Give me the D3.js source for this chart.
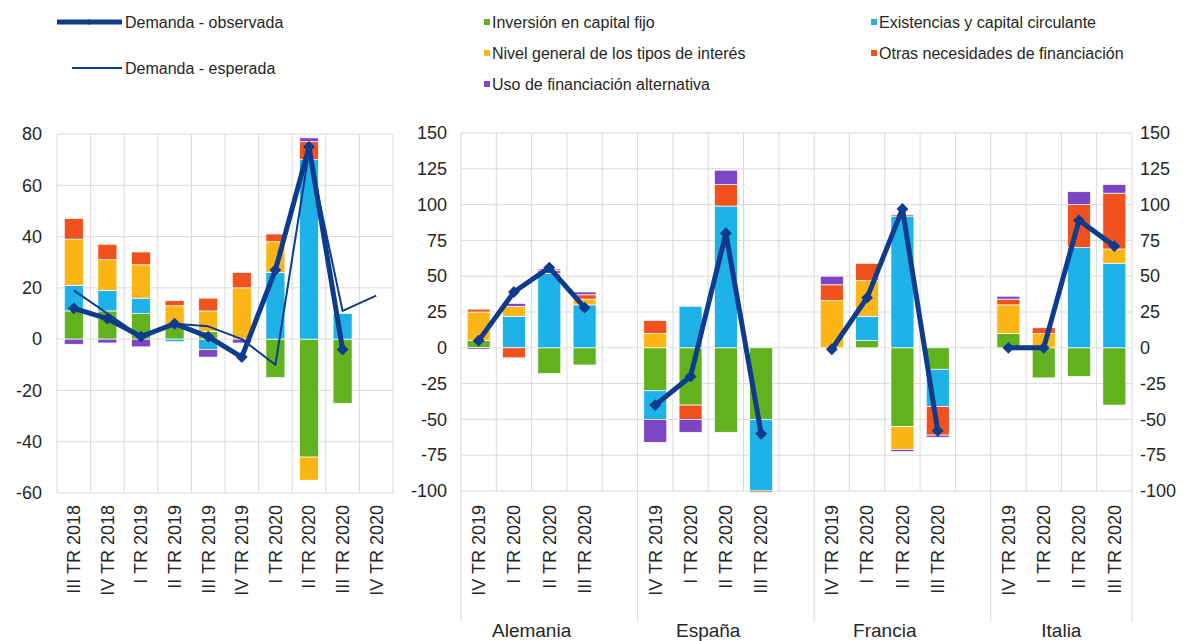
<!DOCTYPE html>
<html>
<head>
<meta charset="utf-8">
<script src="https://cdn.jsdelivr.net/npm/d3@7"></script>
<style>
body { margin: 0; background: #fff; }
text { font-family: "Liberation Sans", Arial, sans-serif; fill: #262626; }
</style>
</head>
<body>
<script>
//left panel: euro area, quarters
var leftQuarters = ['III TR 2018', 'IV TR 2018', 'I TR 2019', 'II TR 2019', 'III TR 2019',
    'IV TR 2019', 'I TR 2020', 'II TR 2020', 'III TR 2020', 'IV TR 2020'];
var leftInversion   = [11, 11, 10, 5, 3, 0, -15, -46, -25, 0];
var leftExistencias = [10, 8, 6, -1, -4, 0, 26, 70, 10, 0];
var leftTipos       = [18, 12, 13, 8, 8, 20, 12, -9, 0, 0];
var leftOtras       = [8, 6, 5, 2, 5, 6, 3, 7, 0, 0];
var leftAlternativa = [-2, -1.5, -3, 0, -3, -1.5, 0, 1.5, 0, 0];
var leftObservada   = [12, 8, 1, 6, 1, -7, 27, 75, -4, null];
var leftEsperada    = [19, 10, 1, 6, 5, 0, -10, 73, 11, 17];
var leftTicks = [80, 60, 40, 20, 0, -20, -40, -60];

//right panel: countries, same four quarters each (Alemania, España, Francia, Italia)
var countries = ['Alemania', 'España', 'Francia', 'Italia'];
var rightQuarters = ['IV TR 2019', 'I TR 2020', 'II TR 2020', 'III TR 2020'];
var rightInversion   = [5, 0, -18, -12,   -30, -40, -59, -50,   0, 5, -55, -15,   10, -21, -20, -40];
var rightExistencias = [0, 22, 52, 30,    -20, 29, 99, -50,     0, 17, 92, -26,   0, 0, 70, 59];
var rightTipos       = [20, 7, 0, 4,      10, 0, 0, 0,          33, 25, -16, 0,   20, 10, 0, 10];
var rightOtras       = [2, -7, 2, 3,      9, -10, 15, -1,       11, 12, 1, -20,   4, 4, 30, 39];
var rightAlternativa = [-1, 2, 1, 2,      -16, -9, 10, 0,       6, 0, -1.5, -1.5, 2, 0, 9, 6];
var rightObservada   = [5, 39, 56, 28,    -40, -20, 80, -60,    -1, 35, 97, -58,  0, 0, 89, 71];
var rightTicks = [150, 125, 100, 75, 50, 25, 0, -25, -50, -75, -100];

var seriesNames = ['Inversión en capital fijo', 'Existencias y capital circulante',
    'Nivel general de los tipos de interés', 'Otras necesidades de financiación',
    'Uso de financiación alternativa'];
var seriesColors = ['#62b220', '#1eb2e8', '#fbb515', '#f1521d', '#7c45c6'];
var lineColor = '#0e3b8c';
var gridColor = '#d9d9d9';

var width = 1193, height = 641;

var svg = d3.select('body').append('svg')
    .attr('width', width)
    .attr('height', height);

var keys = ['s0', 's1', 's2', 's3', 's4'];
var stack = d3.stack().keys(keys).offset(d3.stackOffsetDiverging);

function buildRows(ids, arrays) {
    return ids.map(function(id, i) {
        var row = {id: id};
        keys.forEach(function(k, j) { row[k] = arrays[j][i]; });
        return row;
    });
}

function drawGrid(g, x, y, ticks, edges) {
    g.selectAll('.hgrid').data(ticks).enter().append('line')
        .attr('x1', x.range()[0]).attr('x2', x.range()[1])
        .attr('y1', function(d) { return y(d); }).attr('y2', function(d) { return y(d); })
        .attr('stroke', gridColor).attr('stroke-width', 1);
    g.selectAll('.vgrid').data(edges).enter().append('line')
        .attr('x1', function(d) { return d; }).attr('x2', function(d) { return d; })
        .attr('y1', y.range()[0]).attr('y2', y.range()[1])
        .attr('stroke', gridColor).attr('stroke-width', 1);
}

function drawBars(g, rows, x, y, barW) {
    var layers = stack(rows);
    g.selectAll('.layer').data(layers).enter().append('g')
        .attr('fill', function(d, i) { return seriesColors[i]; })
        .selectAll('rect').data(function(d) { return d; }).enter().append('rect')
        .filter(function(d) { return d[1] !== d[0]; })
        .attr('x', function(d) { return x(d.data.id) + (x.bandwidth() - barW) / 2; })
        .attr('width', barW)
        .attr('y', function(d) { return y(Math.max(d[0], d[1])); })
        .attr('height', function(d) { return Math.abs(y(d[0]) - y(d[1])); })
        .attr('stroke', '#fff').attr('stroke-width', 0.7);
}

function drawLine(g, ids, values, x, y, thick, markers) {
    var pts = ids.map(function(id, i) { return {id: id, v: values[i]}; });
    var line = d3.line()
        .defined(function(d) { return d.v !== null; })
        .x(function(d) { return x(d.id) + x.bandwidth() / 2; })
        .y(function(d) { return y(d.v); });
    g.append('path').datum(pts)
        .attr('d', line)
        .attr('fill', 'none')
        .attr('stroke', lineColor)
        .attr('stroke-width', thick ? 5 : 2)
        .attr('stroke-linejoin', 'round');
    if (markers) {
        g.selectAll(null).data(pts.filter(function(d) { return d.v !== null; })).enter()
            .append('path')
            .attr('d', d3.symbol(d3.symbolSquare, 70))
            .attr('transform', function(d) {
                return 'translate(' + (x(d.id) + x.bandwidth() / 2) + ',' + y(d.v) + ') rotate(45)';
            })
            .attr('fill', lineColor);
    }
}

function drawYAxis(g, y, ticks, xpos, left) {
    //plain hyphen for negatives, as in the source chart
    var axis = (left ? d3.axisLeft(y) : d3.axisRight(y))
        .tickValues(ticks).tickSize(0).tickPadding(0)
        .tickFormat(function(d) { return String(d); });
    var a = g.append('g').attr('transform', 'translate(' + xpos + ',0)').call(axis);
    a.select('.domain').remove();
    a.selectAll('text')
        .style('font-family', '"Liberation Sans", Arial, sans-serif')
        .style('font-size', '18px')
        .attr('fill', '#262626');
}

function drawCatLabels(g, ids, labels, x, top) {
    g.selectAll(null).data(ids).enter().append('text')
        .attr('transform', function(d) {
            return 'translate(' + (x(d) + x.bandwidth() / 2) + ',' + top + ') rotate(-90)';
        })
        .attr('text-anchor', 'end')
        .attr('dy', '0.35em')
        .style('font-size', '18px')
        .text(function(d, i) { return labels[i]; });
}

//left panel
var xL = d3.scaleBand().domain(leftQuarters).range([57, 393]).padding(0);
var yL = d3.scaleLinear().domain([-60, 80]).range([493, 134]);
var gL = svg.append('g');
var leftEdges = leftQuarters.map(function(d) { return xL(d); }).concat([xL.range()[1]]);
drawGrid(gL, xL, yL, leftTicks, leftEdges);
drawBars(gL, buildRows(leftQuarters, [leftInversion, leftExistencias, leftTipos, leftOtras, leftAlternativa]),
    xL, yL, 19);
drawLine(gL, leftQuarters, leftEsperada, xL, yL, false, false);
drawLine(gL, leftQuarters, leftObservada, xL, yL, true, true);
drawYAxis(gL, yL, leftTicks, 42, true);
drawCatLabels(gL, leftQuarters, leftQuarters, xL, 505);

//right panel: one slot per quarter plus an empty slot after each country
var slots = [], realSlots = [], slotLabels = [];
countries.forEach(function(c, i) {
    rightQuarters.forEach(function(q) {
        slots.push(c + '|' + q);
        realSlots.push(c + '|' + q);
        slotLabels.push(q);
    });
    if (i < countries.length - 1) slots.push('gap' + i);
});
var xR = d3.scaleBand().domain(slots).range([461, 1132]).padding(0);
var yR = d3.scaleLinear().domain([-100, 150]).range([491, 133]);
var gR = svg.append('g');
var rightEdges = slots.map(function(d) { return xR(d); }).concat([xR.range()[1]]);
drawGrid(gR, xR, yR, rightTicks, rightEdges);
drawBars(gR, buildRows(realSlots, [rightInversion, rightExistencias, rightTipos, rightOtras, rightAlternativa]),
    xR, yR, 23);
countries.forEach(function(c, i) {
    var ids = realSlots.slice(i * 4, i * 4 + 4);
    drawLine(gR, ids, rightObservada.slice(i * 4, i * 4 + 4), xR, yR, true, true);
});
drawYAxis(gR, yR, rightTicks, 447, true);
drawYAxis(gR, yR, rightTicks, 1140, false);
drawCatLabels(gR, realSlots, slotLabels, xR, 505);

//country dividers and names under the axis
var dividers = countries.map(function(c) { return xR(c + '|' + rightQuarters[0]); }).concat([xR.range()[1]]);
gR.selectAll('.divider').data(dividers).enter().append('line')
    .attr('x1', function(d) { return d; }).attr('x2', function(d) { return d; })
    .attr('y1', 491).attr('y2', 622)
    .attr('stroke', gridColor).attr('stroke-width', 1);
gR.selectAll('.country').data(countries).enter().append('text')
    .attr('x', function(c) {
        return (xR(c + '|' + rightQuarters[0]) + xR(c + '|' + rightQuarters[3]) + xR.bandwidth()) / 2;
    })
    .attr('y', 637)
    .attr('text-anchor', 'middle')
    .style('font-size', '19px')
    .text(function(c) { return c; });

//legend
var lg = svg.append('g').style('font-size', '16px');
lg.append('line').attr('x1', 57).attr('x2', 122).attr('y1', 22).attr('y2', 22)
    .attr('stroke', lineColor).attr('stroke-width', 5);
lg.append('path').attr('d', d3.symbol(d3.symbolSquare, 18))
    .attr('transform', 'translate(89,22) rotate(45)').attr('fill', lineColor);
lg.append('text').attr('x', 125).attr('y', 22).attr('dy', '0.35em').text('Demanda - observada');
lg.append('line').attr('x1', 72).attr('x2', 122).attr('y1', 68).attr('y2', 68)
    .attr('stroke', lineColor).attr('stroke-width', 2);
lg.append('text').attr('x', 125).attr('y', 68).attr('dy', '0.35em').text('Demanda - esperada');

var legendPos = [[492, 22], [879, 22], [492, 53], [879, 53], [492, 84]];
seriesNames.forEach(function(name, i) {
    var p = legendPos[i];
    lg.append('rect').attr('x', p[0] - 8).attr('y', p[1] - 3).attr('width', 6).attr('height', 6)
        .attr('fill', seriesColors[i]);
    lg.append('text').attr('x', p[0]).attr('y', p[1]).attr('dy', '0.35em').text(name);
});
</script>
</body>
</html>
